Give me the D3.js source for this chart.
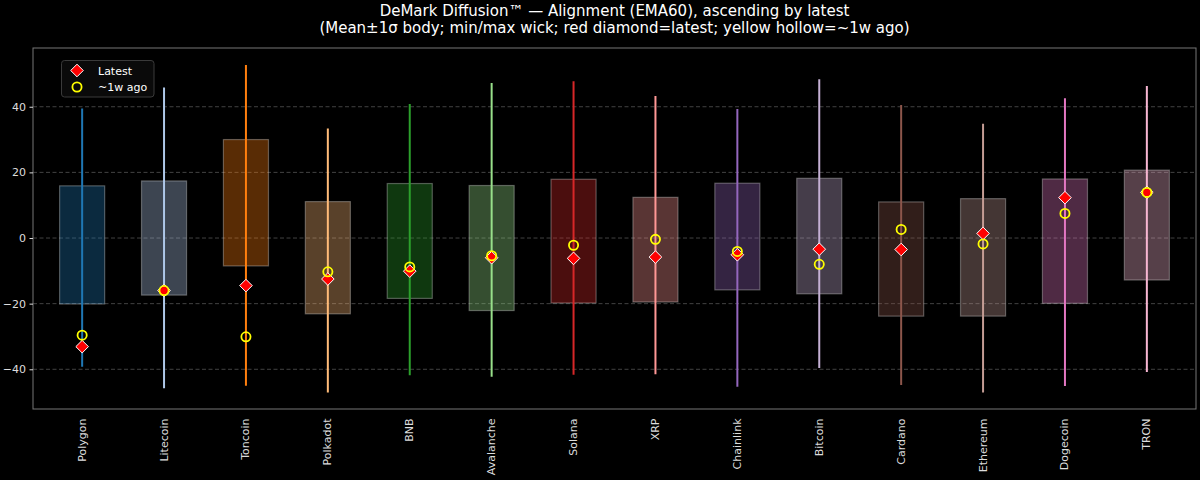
<!DOCTYPE html>
<html>
<head>
<meta charset="utf-8">
<script src="https://cdn.jsdelivr.net/npm/d3@7"></script>
<style>
  html, body { margin: 0; padding: 0; background: #000; }
  svg { display: block; }
  text { font-family: "DejaVu Sans", sans-serif; }
</style>
</head>
<body>
<svg id="chart" width="1200" height="480"></svg>
<script>
// ---- data ----
const categories = ["Polygon","Litecoin","Toncoin","Polkadot","BNB","Avalanche","Solana","XRP","Chainlink","Bitcoin","Cardano","Ethereum","Dogecoin","TRON"];
const meanVals   = [-2.1, 0.0, 10.75, -6.0, -0.9, -3.05, -0.95, -3.55, 0.45, 0.6, -6.4, -5.9, -0.95, 3.95];
const sdVals     = [18.0, 17.4, 19.25, 17.1, 17.5, 19.05, 18.85, 15.95, 16.25, 17.6, 17.4, 17.9, 18.95, 16.75];
const minVals    = [-39.2, -45.8, -45.0, -47.1, -41.8, -42.3, -41.7, -41.5, -45.3, -39.6, -44.8, -47.1, -45.1, -40.8];
const maxVals    = [39.5, 45.9, 52.7, 33.4, 40.8, 47.2, 47.8, 43.3, 39.3, 48.4, 40.5, 34.8, 42.6, 46.3];
const latestVals = [-33.1, -16.0, -14.5, -12.5, -10.1, -6.0, -6.2, -5.8, -5.1, -3.4, -3.5, 1.4, 12.3, 13.9];
const weekAgoVals= [-29.6, -16.0, -30.1, -10.3, -8.8, -5.4, -2.2, -0.4, -4.1, -8.0, 2.6, -1.8, 7.5, 13.9];
const yTicks = [-40, -20, 0, 20, 40];
const palette = ["#1f77b4","#aec7e8","#ff7f0e","#ffbb78","#2ca02c","#98df8a","#d62728","#ff9896","#9467bd","#c5b0d5","#8c564b","#c49c94","#e377c2","#f7b6d2"];
const titleLines = ["DeMark Diffusion\u2122 \u2014 Alignment (EMA60), ascending by latest",
                    "(Mean\u00b11\u03c3 body; min/max wick; red diamond=latest; yellow hollow=~1w ago)"];

// ---- layout ----
const L = 33, R = 1196, T = 48, B = 409;
const svg = d3.select("#chart");
svg.append("rect").attr("width",1200).attr("height",480).attr("fill","#000");

const x = d3.scaleLinear().domain([-0.6, categories.length - 0.4]).range([L, R]);
const y = d3.scaleLinear().domain([-52.1, 57.9]).range([B, T]);
const boxW = x(0.55) - x(0);
const color = d3.scaleOrdinal().domain(categories).range(palette);

// grid
svg.append("g").selectAll("line").data(yTicks).join("line")
  .attr("x1", L).attr("x2", R)
  .attr("y1", d => y(d)).attr("y2", d => y(d))
  .attr("stroke", "#4a4a4a").attr("stroke-width", 0.9)
  .attr("stroke-dasharray", "4,2.5");

// data rows
const rows = categories.map((c, i) => ({
  c, i, mean: meanVals[i], sd: sdVals[i], min: minVals[i], max: maxVals[i],
  latest: latestVals[i], week: weekAgoVals[i]
}));

const g = svg.append("g");
// bodies
g.selectAll("rect.body").data(rows).join("rect")
  .attr("class","body")
  .attr("x", d => x(d.i) - boxW/2)
  .attr("width", boxW)
  .attr("y", d => y(d.mean + d.sd))
  .attr("height", d => y(d.mean - d.sd) - y(d.mean + d.sd))
  .attr("fill", d => color(d.c)).attr("fill-opacity", 0.35)
  .attr("stroke", "rgba(255,255,255,0.3)").attr("stroke-width", 1.2);

// wicks
g.selectAll("line.wick").data(rows).join("line")
  .attr("class","wick")
  .attr("x1", d => x(d.i)).attr("x2", d => x(d.i))
  .attr("y1", d => y(d.min)).attr("y2", d => y(d.max))
  .attr("stroke", d => color(d.c)).attr("stroke-width", 2);

// diamonds (latest)
const diamond = "M0,-6.3L6.3,0L0,6.3L-6.3,0Z";
g.selectAll("path.latest").data(rows).join("path")
  .attr("class","latest")
  .attr("d", diamond)
  .attr("transform", d => `translate(${x(d.i)},${y(d.latest)})`)
  .attr("fill", "#ff0000").attr("stroke", "#ffffff").attr("stroke-width", 1);

// hollow circles (~1w ago)
g.selectAll("circle.week").data(rows).join("circle")
  .attr("class","week")
  .attr("cx", d => x(d.i)).attr("cy", d => y(d.week)).attr("r", 4.6)
  .attr("fill", "none").attr("stroke", "#ffff00").attr("stroke-width", 1.8);

// spines
svg.append("rect").attr("x", L).attr("y", T).attr("width", R-L).attr("height", B-T)
  .attr("fill","none").attr("stroke","#777").attr("stroke-width",1);

// y axis
const yAxis = d3.axisLeft(y).tickValues(yTicks).tickSize(3.5).tickPadding(3.5).tickFormat(d3.format("d"));
const ya = svg.append("g").attr("transform", `translate(${L},0)`).call(yAxis);
ya.select(".domain").remove();
ya.selectAll(".tick line").attr("stroke","#ddd");
ya.selectAll(".tick text").attr("fill","#ddd").style("font-size","11px").style("font-family","DejaVu Sans");

// x axis labels
const xa = svg.append("g").attr("transform", `translate(0,${B})`);
xa.selectAll("text").data(rows).join("text")
  .attr("transform", d => `translate(${x(d.i)},9.5) rotate(-90)`)
  .attr("text-anchor","end").attr("dominant-baseline","central")
  .attr("fill","#ddd").style("font-size","11px")
  .text(d => d.c);

// title
svg.append("g").selectAll("text").data(titleLines).join("text")
  .attr("x", (L+R)/2).attr("y", (d,i) => 15.5 + i*17.6)
  .attr("text-anchor","middle").attr("fill","#fff").style("font-size","15px")
  .text(d => d);

// legend
const lg = svg.append("g");
lg.append("rect").attr("x", 61.5).attr("y", 60.5).attr("width", 92.5).attr("height", 36.5)
  .attr("rx", 3).attr("fill","#0a0a0a").attr("stroke","#3a3a3a").attr("stroke-width",1);
lg.append("path").attr("d", diamond).attr("transform","translate(77,70.5)")
  .attr("fill","#ff0000").attr("stroke","#fff").attr("stroke-width",1);
lg.append("circle").attr("cx",77).attr("cy",87).attr("r",4.6)
  .attr("fill","none").attr("stroke","#ffff00").attr("stroke-width",1.8);
lg.append("text").attr("x",98).attr("y",74.5).attr("fill","#fff").style("font-size","11px").text("Latest");
lg.append("text").attr("x",98).attr("y",91).attr("fill","#fff").style("font-size","11px").text("~1w ago");
</script>
</body>
</html>
